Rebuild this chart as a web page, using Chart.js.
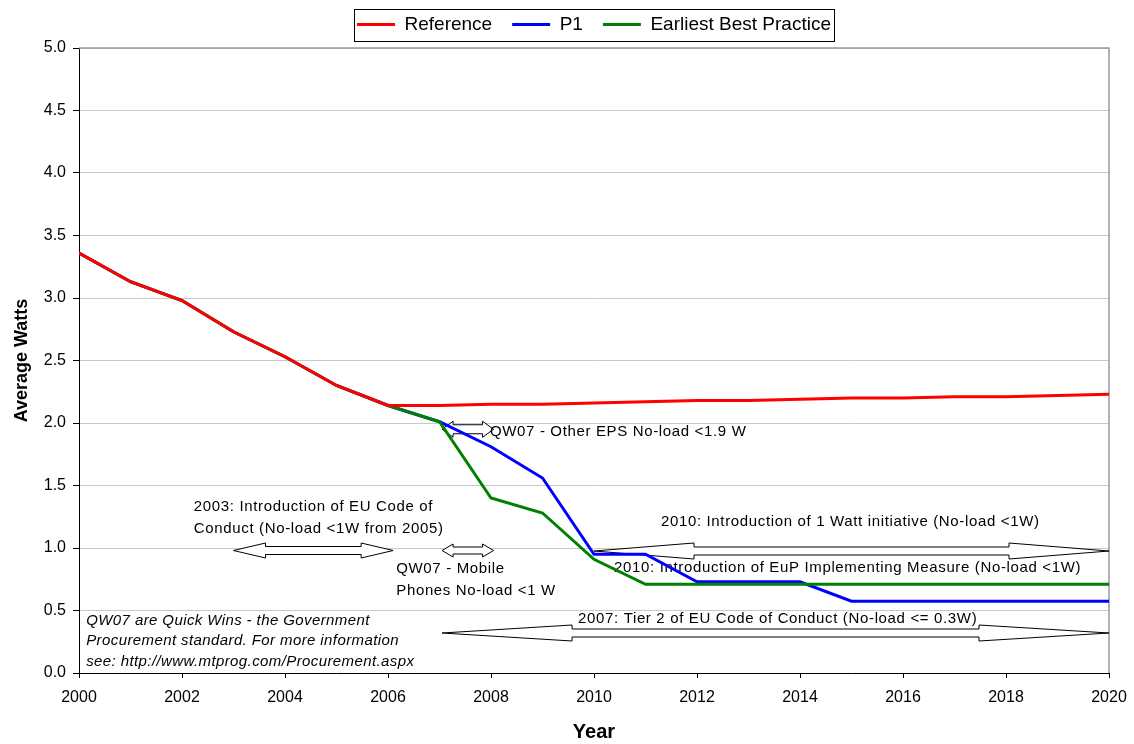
<!DOCTYPE html>
<html>
<head>
<meta charset="utf-8">
<script src="https://cdn.jsdelivr.net/npm/chart.js@4.4.1/dist/chart.umd.min.js"></script>
<style>
  html, body { margin: 0; padding: 0; background: #fff; }
  #wrap { width: 1134px; height: 744px; }
</style>
</head>
<body>
<div id="wrap"><canvas id="grafico" width="1134" height="744"></canvas></div>
<script>
// Dados do gráfico
const anos = [2000, 2001, 2002, 2003, 2004, 2005, 2006, 2007, 2008, 2009, 2010,
              2011, 2012, 2013, 2014, 2015, 2016, 2017, 2018, 2019, 2020];
const referencia = [3.36, 3.13, 2.98, 2.73, 2.53, 2.30, 2.14, 2.14, 2.15, 2.15, 2.16,
                    2.17, 2.18, 2.18, 2.19, 2.20, 2.20, 2.21, 2.21, 2.22, 2.23];
const p1 = [3.36, 3.13, 2.98, 2.73, 2.53, 2.30, 2.14, 2.01, 1.81, 1.56, 0.95,
            0.95, 0.73, 0.73, 0.73, 0.575, 0.575, 0.575, 0.575, 0.575, 0.575];
const melhorPratica = [3.36, 3.13, 2.98, 2.73, 2.53, 2.30, 2.14, 2.01, 1.40, 1.28, 0.91,
                       0.71, 0.71, 0.71, 0.71, 0.71, 0.71, 0.71, 0.71, 0.71, 0.71];
const ticksY = [0.0, 0.5, 1.0, 1.5, 2.0, 2.5, 3.0, 3.5, 4.0, 4.5, 5.0];

const FONTE = '"Liberation Sans", Arial, sans-serif';

// Setas duplas (x em anos, y em watts)
const setas = [
    { x1: 2003.0, x2: 2006.1, y: 0.98, cabeca: 32, haste: 4, aba: 7.5 },
    { x1: 2007.05, x2: 2008.05, y: 0.98, cabeca: 11, haste: 3.5, aba: 6.5 },
    { x1: 2007.05, x2: 2008.05, y: 1.95, cabeca: 11, haste: 4.5, aba: 8 },
    { x1: 2010.0, x2: 2020.0, y: 0.976, cabeca: 100, haste: 4, aba: 8 },
    { x1: 2007.05, x2: 2020.0, y: 0.32, cabeca: 130, haste: 4, aba: 8 }
];

// Textos das anotações
const textos = [
    { x: 2007.98, y: 1.93, t: 'QW07 - Other EPS No-load <1.9 W' },
    { x: 2002.23, y: 1.33, t: '2003: Introduction of EU Code of' },
    { x: 2002.23, y: 1.15, t: 'Conduct (No-load <1W from 2005)' },
    { x: 2006.16, y: 0.83, t: 'QW07 - Mobile' },
    { x: 2006.16, y: 0.66, t: 'Phones No-load <1 W' },
    { x: 2011.30, y: 1.21, t: '2010: Introduction of 1 Watt initiative (No-load <1W)' },
    { x: 2010.39, y: 0.84, t: '2010: Introduction of EuP Implementing Measure (No-load <1W)' },
    { x: 2009.69, y: 0.43, t: '2007: Tier 2 of EU Code of Conduct (No-load <= 0.3W)' },
    { x: 2000.14, y: 0.42, t: 'QW07 are Quick Wins - the Government', italico: true },
    { x: 2000.14, y: 0.26, t: 'Procurement standard. For more information', italico: true },
    { x: 2000.14, y: 0.09, t: 'see: http://www.mtprog.com/Procurement.aspx', italico: true }
];

function pontos(valores) {
    return anos.map((a, i) => ({ x: a, y: valores[i] }));
}

function desenharSeta(ctx, xa, xb, yc, s) {
    ctx.beginPath();
    ctx.moveTo(xa, yc);
    ctx.lineTo(xa + s.cabeca, yc - s.aba);
    ctx.lineTo(xa + s.cabeca, yc - s.haste);
    ctx.lineTo(xb - s.cabeca, yc - s.haste);
    ctx.lineTo(xb - s.cabeca, yc - s.aba);
    ctx.lineTo(xb, yc);
    ctx.lineTo(xb - s.cabeca, yc + s.aba);
    ctx.lineTo(xb - s.cabeca, yc + s.haste);
    ctx.lineTo(xa + s.cabeca, yc + s.haste);
    ctx.lineTo(xa + s.cabeca, yc + s.aba);
    ctx.closePath();
    ctx.fillStyle = '#ffffff';
    ctx.fill();
    ctx.strokeStyle = '#000000';
    ctx.lineWidth = 1;
    ctx.stroke();
}

// Anotações, bordas e moldura da legenda
const pluginAnotacoes = {
    id: 'anotacoes',
    beforeDatasetsDraw(chart) {
        const ctx = chart.ctx;
        const sx = chart.scales.x, sy = chart.scales.y;
        const area = chart.chartArea;
        ctx.save();
        // borda superior e direita
        ctx.strokeStyle = '#999999';
        ctx.lineWidth = 1.5;
        ctx.beginPath();
        ctx.moveTo(area.left, area.top);
        ctx.lineTo(area.right, area.top);
        ctx.lineTo(area.right, area.bottom);
        ctx.stroke();

        setas.forEach(s => {
            desenharSeta(ctx, sx.getPixelForValue(s.x1), sx.getPixelForValue(s.x2),
                         sy.getPixelForValue(s.y), s);
        });

        ctx.fillStyle = '#000000';
        ctx.textBaseline = 'middle';
        ctx.textAlign = 'left';
        textos.forEach(t => {
            ctx.font = (t.italico ? 'italic ' : '') + '15px ' + FONTE;
            ctx.letterSpacing = t.italico ? '0.4px' : '0.65px';
            ctx.fillText(t.t, sx.getPixelForValue(t.x), sy.getPixelForValue(t.y));
        });
        ctx.letterSpacing = '0px';
        ctx.restore();
    },
    afterDraw(chart) {
        const caixas = chart.legend.legendHitBoxes;
        if (!caixas || !caixas.length) return;
        const ctx = chart.ctx;
        const ult = caixas[caixas.length - 1];
        const esq = caixas[0].left - 3;
        const dir = ult.left + ult.width + 3;
        const meio = caixas[0].top + caixas[0].height / 2;
        ctx.save();
        ctx.strokeStyle = '#000000';
        ctx.lineWidth = 1;
        ctx.strokeRect(Math.round(esq) + 0.5, Math.round(meio - 16) + 0.5,
                       Math.round(dir - esq), 32);
        ctx.restore();
    }
};

const ctx = document.getElementById('grafico').getContext('2d');
const grafico = new Chart(ctx, {
    type: 'line',
    data: {
        datasets: [
            {
                label: 'Reference',
                data: pontos(referencia),
                borderColor: '#ff0000',
                backgroundColor: '#ff0000',
                borderWidth: 3,
                pointRadius: 0,
                order: 0
            },
            {
                label: 'P1',
                data: pontos(p1),
                borderColor: '#0000ff',
                backgroundColor: '#0000ff',
                borderWidth: 3,
                pointRadius: 0,
                order: 2
            },
            {
                label: 'Earliest Best Practice',
                data: pontos(melhorPratica),
                borderColor: '#008000',
                backgroundColor: '#008000',
                borderWidth: 3,
                pointRadius: 0,
                order: 1
            }
        ]
    },
    options: {
        responsive: false,
        animation: false,
        layout: { padding: { top: -5, left: 0, right: 25, bottom: 0 } },
        plugins: {
            legend: {
                position: 'top',
                fullSize: false,
                labels: {
                    usePointStyle: true,
                    pointStyle: 'line',
                    pointStyleWidth: 38,
                    padding: 20,
                    color: '#000000',
                    font: { family: FONTE, size: 19 },
                    sort: (a, b) => a.datasetIndex - b.datasetIndex
                }
            },
            tooltip: { enabled: false }
        },
        scales: {
            x: {
                type: 'linear',
                min: 2000,
                max: 2020,
                afterFit(escala) {
                    escala.height = 71;
                    escala.paddingRight = 4;
                },
                ticks: {
                    stepSize: 2,
                    color: '#000000',
                    padding: 10,
                    maxRotation: 0,
                    font: { family: FONTE, size: 16 },
                    callback: v => String(v)
                },
                grid: {
                    drawOnChartArea: false,
                    drawTicks: true,
                    tickLength: 5,
                    tickColor: '#000000'
                },
                border: { color: '#000000', width: 1 },
                title: {
                    display: true,
                    text: 'Year',
                    color: '#000000',
                    padding: { top: 0, bottom: 0 },
                    font: { family: FONTE, size: 20, weight: 'bold' }
                }
            },
            // eixo vazio no topo só para dar espaço abaixo da legenda
            topo: {
                type: 'linear',
                position: 'top',
                min: 2000,
                max: 2020,
                afterFit(escala) {
                    escala.height = 4;
                    escala.paddingLeft = 0;
                    escala.paddingRight = 0;
                },
                ticks: { display: false },
                grid: { drawOnChartArea: false, drawTicks: false },
                border: { display: false }
            },
            y: {
                min: 0,
                max: 5,
                afterFit(escala) { escala.width = 79; },
                afterBuildTicks(escala) { escala.ticks = ticksY.map(v => ({ value: v })); },
                ticks: {
                    color: '#000000',
                    padding: 7,
                    font: { family: FONTE, size: 16 },
                    callback: v => Number(v).toFixed(1)
                },
                grid: {
                    color: '#c8c8c8',
                    lineWidth: 1,
                    tickLength: 6,
                    tickColor: '#000000'
                },
                border: { color: '#000000', width: 1 },
                title: {
                    display: true,
                    text: 'Average Watts',
                    color: '#000000',
                    padding: { top: 11, bottom: 0 },
                    font: { family: FONTE, size: 18, weight: 'bold' }
                }
            }
        }
    },
    plugins: [pluginAnotacoes]
});
</script>
</body>
</html>
